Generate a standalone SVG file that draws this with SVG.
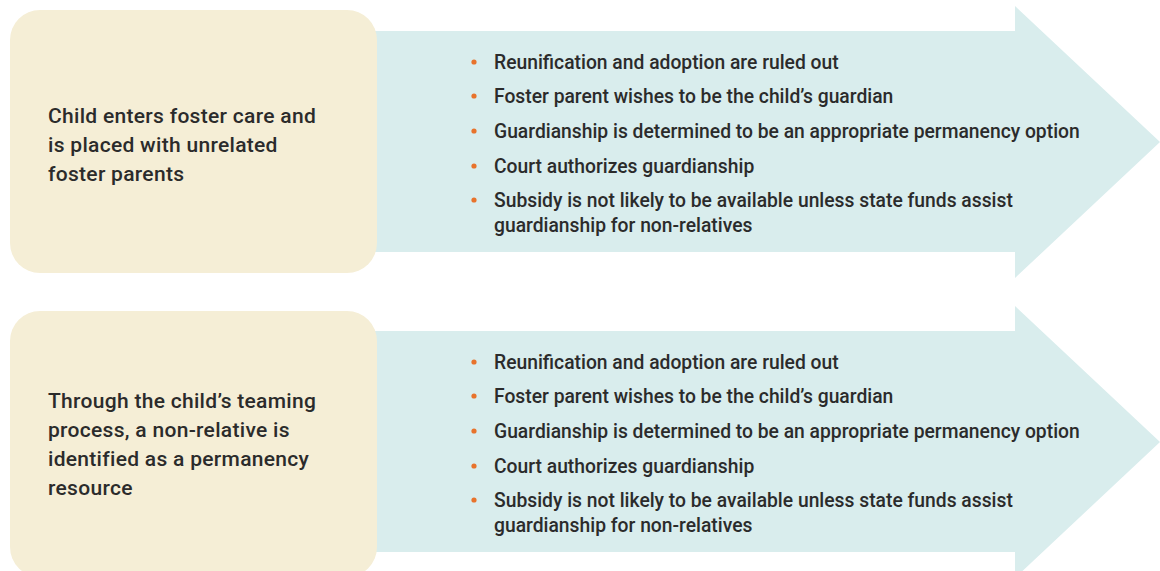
<svg xmlns="http://www.w3.org/2000/svg" width="1160" height="571" viewBox="0 0 1160 571">
  <style>
    .card { fill: #f5eed6; }
    .arrow { fill: #d9eded; }
    .lead { font-family: Roboto, "Liberation Sans", sans-serif; font-weight: 500; font-size: 21px; letter-spacing: 0.3px; fill: #2b2b2b; }
    .item { font-family: Roboto, "Liberation Sans", sans-serif; font-weight: 500; font-size: 19.3px; fill: #2b2b2b; }
    .dot { fill: #e8732c; }
  </style>
  <defs>
    <!-- arrow body plus head, anchored at origin of each row -->
    <path id="arrowShape" d="M370 25 H1015 V0 L1160 136 L1015 272 V246 H370 Z"/>
  </defs>

  <!-- Row 1 -->
  <g id="row1-arrow">
    <use href="#arrowShape" class="arrow" transform="translate(0,6)"/>
  </g>
  <g id="row1-card">
    <rect class="card" x="10" y="10" width="367" height="263" rx="30"/>
    <text class="lead" x="48" y="123">Child enters foster care and</text>
    <text class="lead" x="48" y="152">is placed with unrelated</text>
    <text class="lead" x="48" y="181">foster parents</text>
  </g>
  <g id="row1-list">
    <circle class="dot" cx="474" cy="62" r="2.6"/>
    <text class="item" x="494" y="69">Reunification and adoption are ruled out</text>
    <circle class="dot" cx="474" cy="96" r="2.6"/>
    <text class="item" x="494" y="103">Foster parent wishes to be the child’s guardian</text>
    <circle class="dot" cx="474" cy="131" r="2.6"/>
    <text class="item" x="494" y="138">Guardianship is determined to be an appropriate permanency option</text>
    <circle class="dot" cx="474" cy="166" r="2.6"/>
    <text class="item" x="494" y="173">Court authorizes guardianship</text>
    <circle class="dot" cx="474" cy="200" r="2.6"/>
    <text class="item" x="494" y="207">Subsidy is not likely to be available unless state funds assist</text>
    <text class="item" x="494" y="232">guardianship for non-relatives</text>
  </g>

  <!-- Row 2 -->
  <g id="row2-arrow">
    <use href="#arrowShape" class="arrow" transform="translate(0,306)"/>
  </g>
  <g id="row2-card">
    <rect class="card" x="10" y="311" width="367" height="266" rx="30"/>
    <text class="lead" x="48" y="408">Through the child’s teaming</text>
    <text class="lead" x="48" y="437">process, a non-relative is</text>
    <text class="lead" x="48" y="466">identified as a permanency</text>
    <text class="lead" x="48" y="495">resource</text>
  </g>
  <g id="row2-list">
    <circle class="dot" cx="474" cy="362" r="2.6"/>
    <text class="item" x="494" y="369">Reunification and adoption are ruled out</text>
    <circle class="dot" cx="474" cy="396" r="2.6"/>
    <text class="item" x="494" y="403">Foster parent wishes to be the child’s guardian</text>
    <circle class="dot" cx="474" cy="431" r="2.6"/>
    <text class="item" x="494" y="438">Guardianship is determined to be an appropriate permanency option</text>
    <circle class="dot" cx="474" cy="466" r="2.6"/>
    <text class="item" x="494" y="473">Court authorizes guardianship</text>
    <circle class="dot" cx="474" cy="500" r="2.6"/>
    <text class="item" x="494" y="507">Subsidy is not likely to be available unless state funds assist</text>
    <text class="item" x="494" y="532">guardianship for non-relatives</text>
  </g>

  <!-- the rows carry no separate connectors beyond the arrow shapes -->
  <g id="connectors"/>
</svg>
